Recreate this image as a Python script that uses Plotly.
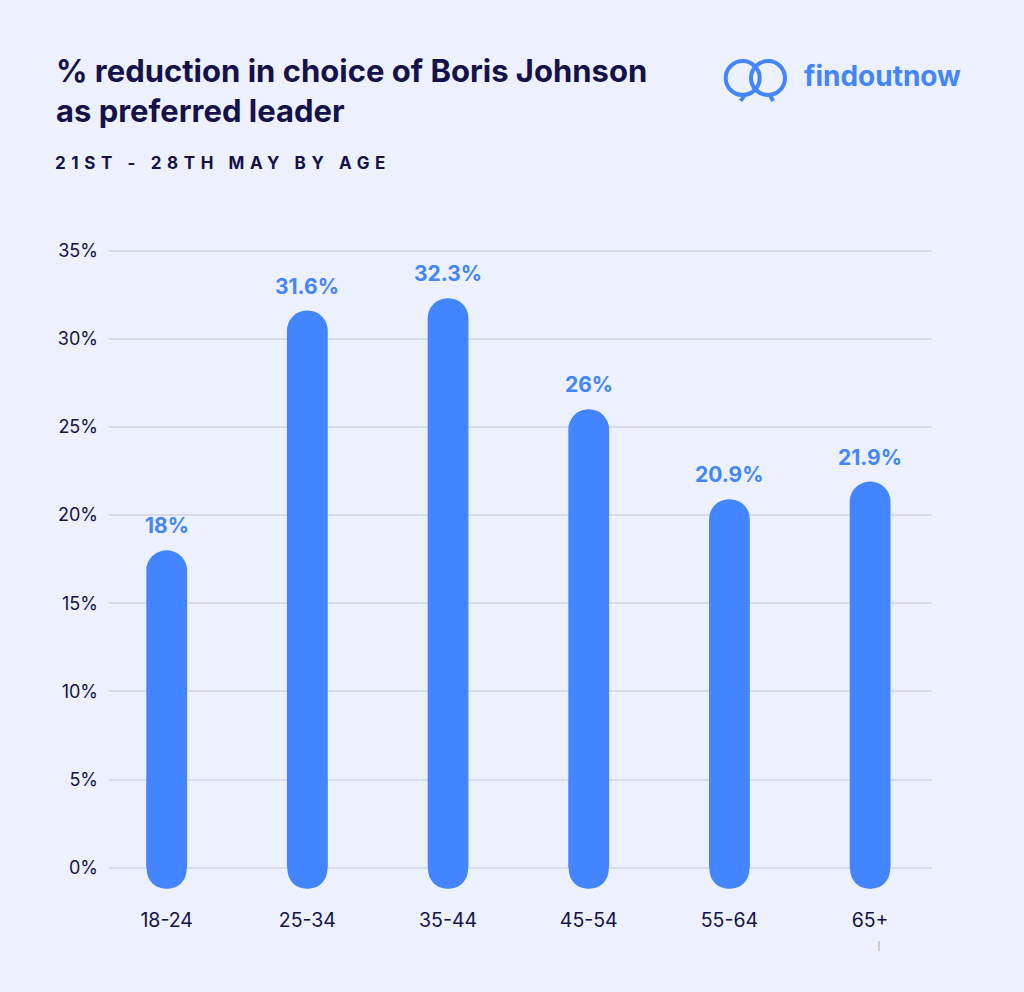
import plotly.graph_objects as go

# ---- data ----
categories = ["18-24", "25-34", "35-44", "45-54", "55-64", "65+"]
values = [18, 31.6, 32.3, 26, 20.9, 21.9]
value_labels = ["18%", "31.6%", "32.3%", "26%", "20.9%", "21.9%"]
y_ticks = [0, 5, 10, 15, 20, 25, 30, 35]
y_tick_labels = ["0%", "5%", "10%", "15%", "20%", "25%", "30%", "35%"]

title_text = "% reduction in choice of Boris Johnson<br>as preferred leader"
subtitle_text = "21ST - 28TH MAY BY AGE"
brand_text = "findoutnow"

# ---- style ----
W, H = 1024, 992
L, R, T, B = 109, 92, 233, 89
FONT = "Inter, 'Open Sans', sans-serif"
BAR = "#4385FE"
NAVY = "#15114A"
BG = "#ECF1FD"
GRID = "#D6DCEC"


def px(x):
    return (x - L) / (W - L - R)


def py(y):
    return (H - B - y) / (H - T - B)


fig = go.Figure()

# rounded bottom caps (extend slightly below zero)
cap = 1.19
inner = 6
fig.add_bar(
    x=categories,
    y=[-(inner + cap)] * len(categories),
    base=[inner] * len(categories),
    width=0.284,
    marker=dict(color=BAR, cornerradius="50%", line=dict(width=0)),
    hoverinfo="skip",
    showlegend=False,
)
# main bars with rounded tops
fig.add_bar(
    x=categories,
    y=values,
    width=0.29,
    marker=dict(color=BAR, cornerradius="50%", line=dict(width=0)),
    showlegend=False,
)

annotations = []
for c, v, t in zip(categories, values, value_labels):
    annotations.append(dict(
        x=c, y=v, xref="x", yref="y", text=t, showarrow=False,
        yanchor="bottom", yshift=10,
        font=dict(family=FONT, size=21, color=BAR, weight=700),
    ))

annotations.append(dict(
    x=px(54), y=py(50), xref="paper", yref="paper", text=title_text,
    showarrow=False, xanchor="left", yanchor="top", align="left",
    font=dict(family=FONT, size=31, color=NAVY, weight=700),
))
annotations.append(dict(
    x=px(55), y=py(163), xref="paper", yref="paper", text=subtitle_text,
    showarrow=False, xanchor="left", yanchor="middle", align="left",
    font=dict(family=FONT, size=17, color=NAVY, weight=700),
))
annotations.append(dict(
    x=px(802), y=py(76), xref="paper", yref="paper", text=brand_text,
    showarrow=False, xanchor="left", yanchor="middle", align="left",
    font=dict(family=FONT, size=28, color=BAR, weight=700),
))

shapes = []
for cx in (742.7, 768.0):
    shapes.append(dict(
        type="circle", xref="paper", yref="paper",
        xsizemode="pixel", ysizemode="pixel",
        xanchor=px(cx), yanchor=py(78),
        x0=-17, x1=17, y0=-17, y1=17,
        line=dict(color=BAR, width=4),
    ))
# speech tails
shapes.append(dict(
    type="path", xref="paper", yref="paper",
    xsizemode="pixel", ysizemode="pixel",
    xanchor=px(742.7), yanchor=py(78),
    path="M 2,-17 L -2,-23",
    line=dict(color=BAR, width=4),
))
shapes.append(dict(
    type="path", xref="paper", yref="paper",
    xsizemode="pixel", ysizemode="pixel",
    xanchor=px(768), yanchor=py(78),
    path="M 2,-17 L 5,-23",
    line=dict(color=BAR, width=4),
))
# small mark bottom right
shapes.append(dict(
    type="line", xref="paper", yref="paper",
    x0=px(879), x1=px(879), y0=py(941), y1=py(951),
    line=dict(color="#B9BFD3", width=1.5),
))

fig.update_layout(
    width=W, height=H, autosize=False,
    margin=dict(l=L, r=R, t=T, b=B, pad=0),
    paper_bgcolor=BG, plot_bgcolor=BG,
    barmode="overlay",
    font=dict(family=FONT, color=NAVY),
    annotations=annotations,
    shapes=shapes,
    showlegend=False,
)
fig.update_xaxes(
    range=[-0.41, 5.44], showgrid=False, zeroline=False, showline=False,
    ticks="", tickfont=dict(family=FONT, size=19.5, color=NAVY),
    ticklabelstandoff=3,
)
fig.update_yaxes(
    range=[-2, 36], tickvals=y_ticks, ticktext=y_tick_labels,
    showgrid=True, gridcolor=GRID, gridwidth=1.5, zeroline=False,
    showline=False, ticks="", tickfont=dict(family=FONT, size=18, color=NAVY),
    ticklabelstandoff=10,
)

post = """
document.body.style.margin='0';
var gd=document.getElementById('{plot_id}');
var els=gd.querySelectorAll('text.annotation-text');
els.forEach(function(el){
  if(el.textContent==='21ST - 28TH MAY BY AGE'){
    el.style.letterSpacing='5.6px';
    var r=el.getBoundingClientRect(); var g=gd.getBoundingClientRect();
    var dx=55-(r.left-g.left);
    el.setAttribute('transform','translate('+dx+',0)');
  }
});
"""

fig.write_html("out.html", post_script=post, config={"displayModeBar": False})
